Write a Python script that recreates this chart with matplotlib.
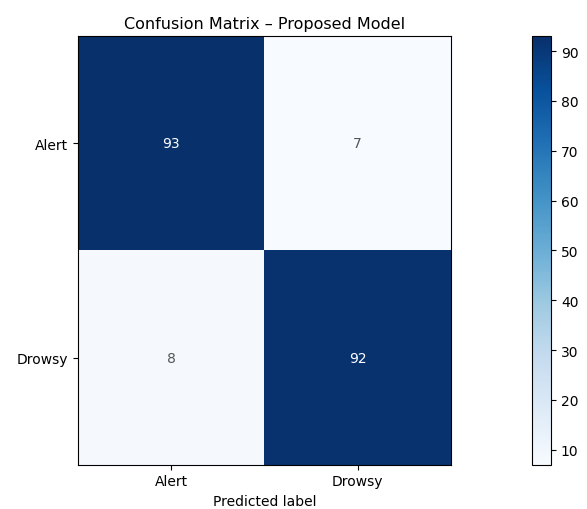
import numpy as np
import matplotlib.pyplot as plt

# confusion matrix values
class_names = ['Alert', 'Drowsy']
cm = np.array([[93, 7],
               [8, 92]])
cbar_ticks = [10, 20, 30, 40, 50, 60, 70, 80, 90]

fig = plt.figure(figsize=(5.87, 5.10), dpi=100)
ax = fig.add_axes([0.133, 0.087, 0.635, 0.840])
cax = fig.add_axes([0.906, 0.087, 0.033, 0.840])

im = ax.imshow(cm, cmap='Blues', interpolation='nearest', aspect='auto')
cb = fig.colorbar(im, cax=cax)
cb.set_ticks(cbar_ticks)

thresh = (cm.max() + cm.min()) / 2.0
for i in range(cm.shape[0]):
    for j in range(cm.shape[1]):
        color = 'white' if cm[i, j] > thresh else '#555555'
        ax.text(j, i, str(cm[i, j]), ha='center', va='center', color=color, fontsize=10)

ax.set_xticks(range(len(class_names)))
ax.set_xticklabels(class_names)
ax.set_yticks(range(len(class_names)))
ax.set_yticklabels(class_names)
ax.set_xlabel('Predicted label')
ax.set_title('Confusion Matrix – Proposed Model', fontsize=11.5)

fig.savefig('out.png', dpi=100)
